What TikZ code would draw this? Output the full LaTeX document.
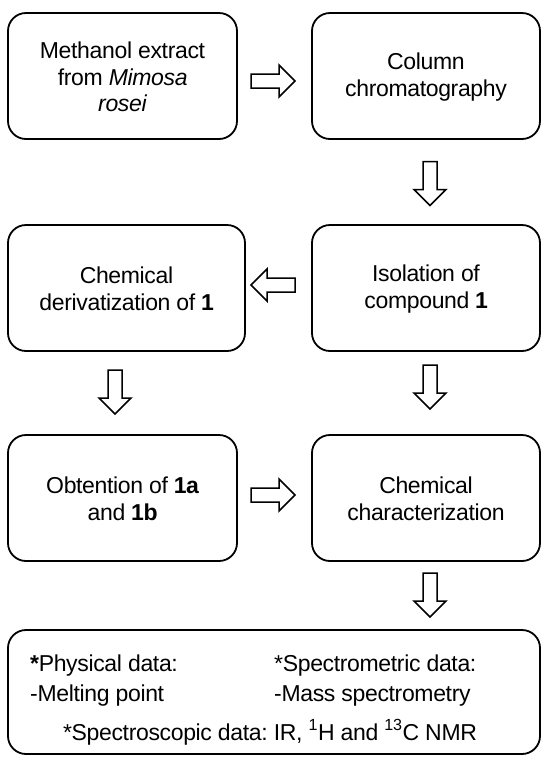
\documentclass[tikz,border=0pt]{standalone}
\usepackage{fontspec}
\setmainfont[LetterSpace=-1.5]{Liberation Sans}
\frenchspacing
\begin{document}
\begin{tikzpicture}[x=1pt,y=-1pt,
  box/.style={draw, line width=1.8pt, rounded corners=18pt, inner sep=0pt},
  txt/.style={font=\fontsize{23}{26.5}\selectfont, align=center, inner sep=0pt},
  ltxt/.style={font=\fontsize{23}{26.5}\selectfont, inner sep=0pt, anchor=base west},
  barrowline/.style={draw, fill=white, line width=1.5pt, line join=miter},
  barrow/.pic={\path[barrowline] (-22,-7) -- (6,-7) -- (6,-16) -- (22,0) -- (6,16) -- (6,7) -- (-22,7) -- cycle;}]
\useasboundingbox (0,0) rectangle (550,764);
\fill[white] (0,0) rectangle (550,764);
% boxes
\node[box, minimum width=229pt, minimum height=126pt] (b1) at (122.5,76) {};
\node[box, minimum width=228pt, minimum height=126pt] (b2) at (426,76) {};
\node[box, minimum width=237pt, minimum height=126pt] (b3) at (126.5,288) {};
\node[box, minimum width=228pt, minimum height=126pt] (b4) at (426,288) {};
\node[box, minimum width=229pt, minimum height=126pt] (b5) at (122.5,498) {};
\node[box, minimum width=228pt, minimum height=126pt] (b6) at (426,498) {};
\node[box, minimum width=532pt, minimum height=124pt] (b7) at (274,692) {};
% texts
\node[txt] (t1) at (122.5,77) {Methanol extract\\from \textit{Mimosa}\\\textit{rosei}};
\node[txt] (t2) at (426,77) {Column\\chromatography};
\node[txt] (t3) at (126.5,289) {Chemical\\derivatization of \textbf{1}};
\node[txt] (t4) at (426,289) {Isolation of\\compound \textbf{1}};
\node[txt] (t5) at (122.5,499) {Obtention of \textbf{1a}\\and \textbf{1b}};
\node[txt] (t6) at (426,499) {Chemical\\characterization};
\node[ltxt] (p1) at (30,671) {\textbf{*}Physical data:};
\node[ltxt] (p2) at (30,701) {-Melting point};
\node[ltxt] (s1) at (274,671) {*Spectrometric data:};
\node[ltxt] (s2) at (274,701) {-Mass spectrometry};
\node[txt, anchor=base] (sp) at (270,740) {*Spectroscopic data: IR, \textsuperscript{1}H and \textsuperscript{13}C NMR};
% block arrows
\pic (a12) at (273,81) {barrow};
\pic[rotate=-90] (a24) at (430,183.5) {barrow};
\pic[rotate=180] (a43) at (273,285) {barrow};
\pic[rotate=-90] (a35) at (115,392) {barrow};
\pic[rotate=-90] (a46) at (430,387) {barrow};
\pic (a56) at (273,495) {barrow};
\pic[rotate=-90] (a67) at (430,595) {barrow};
\end{tikzpicture}
\end{document}
